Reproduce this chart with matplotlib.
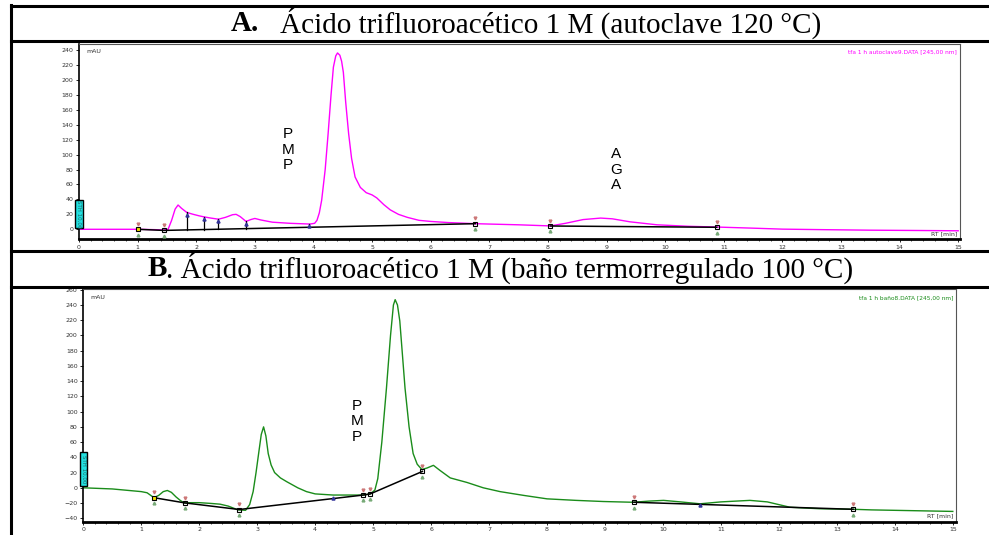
import matplotlib
matplotlib.use("Agg")
import matplotlib.pyplot as plt
from matplotlib.lines import Line2D
from matplotlib.patches import Rectangle
import numpy as np

# ---- panel A: TFA 1 M, autoclave 120 C (magenta trace)
tA = [0.0, 0.5, 1.0, 1.3, 1.45, 1.52, 1.58, 1.64, 1.69, 1.75, 1.84, 1.95, 2.05, 2.14,
      2.25, 2.38, 2.5, 2.62, 2.68, 2.75, 2.85, 2.93, 3.0, 3.1, 3.3, 3.6, 3.94, 4.02,
      4.06, 4.1, 4.14, 4.2, 4.25, 4.3, 4.34, 4.38, 4.41, 4.45, 4.48, 4.51, 4.55, 4.6,
      4.65, 4.71, 4.8, 4.9, 5.0, 5.08, 5.2, 5.31, 5.45, 5.6, 5.8, 6.0, 6.3, 6.76, 7.0,
      7.5, 8.04, 8.3, 8.6, 8.9, 9.1, 9.4, 9.86, 10.4, 10.88, 11.5, 12.0, 12.7, 13.5,
      14.3, 15.0]
mauA = [0, 0, 0, -0.5, -1, 0, 12, 27, 32.5, 28, 22.5, 20, 18, 16.5,
        15, 13.5, 16, 19.5, 20, 17, 10.5, 13, 14.5, 12.5, 9.5, 8, 7, 8,
        12, 22, 39, 80, 128, 180, 217, 232, 236, 233, 225, 210, 170, 128,
        95, 70, 56, 49, 46, 42, 33, 26, 20, 16, 12, 10.5, 9, 7.5, 7,
        6, 4.5, 8, 13, 15, 14, 10, 6, 4, 3, 1.5, 0.2, -0.5, -1.2,
        -1.6, -2]
baseA = [([1.0, 1.45, 6.76], [0, -1.5, 7.5]), ([8.04, 10.88], [4.4, 2.7])]
dropA_t = [1.84, 2.14, 2.37, 2.85, 3.92]

# ---- panel B: TFA 1 M, thermostatic bath 100 C (green trace)
tB = [0.0, 0.5, 1.0, 1.1, 1.22, 1.3, 1.38, 1.45, 1.52, 1.6, 1.68, 1.75, 1.85, 2.0,
      2.2, 2.36, 2.5, 2.67, 2.8, 2.87, 2.93, 2.98, 3.03, 3.07, 3.11, 3.15, 3.19,
      3.24, 3.3, 3.4, 3.51, 3.7, 3.85, 4.0, 4.31, 4.6, 4.83, 4.95, 5.03, 5.08, 5.15,
      5.23, 5.3, 5.35, 5.38, 5.42, 5.46, 5.5, 5.55, 5.62, 5.69, 5.76, 5.84, 5.93,
      6.04, 6.15, 6.33, 6.62, 6.9, 7.19, 7.6, 8.0, 8.5, 8.97, 9.49, 9.75, 10.01,
      10.3, 10.64, 11.0, 11.5, 11.8, 12.19, 12.7, 13.28, 13.6, 14.3, 15.0]
mauB = [0, -1.5, -5, -6.5, -13, -10, -5, -3.5, -6, -12, -17, -20, -19.5, -19.5,
        -20.5, -21.5, -24, -29, -29.5, -22, -5, 20, 48, 70, 80, 68, 45,
        30, 20, 13, 8, 0, -5, -8, -9.5, -9.5, -9.5, -8, -3, 12, 60,
        131, 200, 240, 247, 240, 219, 180, 131, 80, 45, 31, 24, 26,
        29.5, 23, 13, 7, 0, -5, -10, -14.5, -16.5, -18, -19, -17.5, -16.5,
        -18.5, -21, -18.5, -16.5, -18.5, -25.5, -27.5, -28.2, -29, -30, -31]
baseB = [([1.22, 1.75, 2.69, 4.83, 4.95, 5.85], [-13, -19.8, -28.5, -9.5, -8, 21.5]),
         ([9.5, 13.28], [-19, -28.2])]

W, H = 989, 535
fig = plt.figure(figsize=(W / 100, H / 100), dpi=100)
fig.patch.set_facecolor("white")


def px_axes(l, t, r, b):
    return fig.add_axes([l / W, 1 - b / H, (r - l) / W, (b - t) / H])


def style(ax, ymin, ymax, yticks, xmax):
    ax.set_xlim(0, xmax)
    ax.set_ylim(ymin, ymax)
    ax.set_xticks(range(16))
    ax.set_xticks(np.arange(0, 15.01, 0.2), minor=True)
    ax.set_yticks(yticks)
    ax.tick_params(axis="both", which="major", direction="out", length=2.5, width=0.6,
                   labelsize=4.5, labelcolor="#333333", pad=1.5)
    ax.tick_params(axis="x", which="minor", direction="out", length=1.5, width=0.5)
    for s in ["top", "right"]:
        ax.spines[s].set_color("#555555")
        ax.spines[s].set_linewidth(0.8)
    ax.spines["left"].set_linewidth(1.2)
    ax.spines["bottom"].set_linewidth(2.0)
    ax.text(0.008, 0.975, "mAU", transform=ax.transAxes, fontsize=4.5,
            color="#333333", va="top", ha="left")
    ax.text(0.997, 0.015, "RT [min]", transform=ax.transAxes, fontsize=4.5,
            color="#333333", va="bottom", ha="right")


def sth_box(ax, y0, y1):
    ax.add_patch(Rectangle((-0.065, y0), 0.13, y1 - y0, facecolor="#22e0e0",
                           edgecolor="black", lw=1.0, clip_on=False, zorder=5))
    ax.text(0.0, (y0 + y1) / 2, "STH 10,00", rotation=270, fontsize=4,
            color="#226666", ha="center", va="center", zorder=6, clip_on=False)


def base_marks(ax, segs, face):
    for k, (xs, ys) in enumerate(segs):
        ax.plot(xs, ys, color="black", lw=1.1, zorder=3)
        for i, (x, y) in enumerate(zip(xs, ys)):
            fc = face if (k == 0 and i == 0) else "none"
            ax.plot(x, y, marker="s", ms=3.5, mfc=fc, mec="black", mew=0.8, zorder=4)
            ax.plot(x, y + 7, marker="v", ms=2.0, color="#cc7777", zorder=4)
            ax.plot(x, y - 7, marker="^", ms=2.0, color="#77aa77", zorder=4)


# ---- panel A
axA = px_axes(79, 44, 960, 239)
style(axA, -13, 248, range(0, 241, 20), 15.03)
axA.plot(tA, mauA, color="#ff00ff", lw=1.0, zorder=2)
base_marks(axA, baseA, "#f0e000")
bx = [1.45, 6.76]
by = [-1.5, 7.5]
for t in dropA_t:
    yb = np.interp(t, bx, by)
    yc = np.interp(t, tA, mauA)
    axA.plot([t, t], [yb, yc], color="black", lw=0.9, zorder=3)
    axA.plot(t, yc - 3, marker="^", ms=2.2, color="#333399", zorder=4)
axA.text(3.57, 106.5, "P\nM\nP", fontsize=11, family="Liberation Sans",
         ha="center", va="center", linespacing=1.15)
axA.text(9.16, 79.6, "A\nG\nA", fontsize=11, family="Liberation Sans",
         ha="center", va="center", linespacing=1.15)
axA.text(0.997, 0.975, "tfa 1 h autoclave9.DATA [245,00 nm]", transform=axA.transAxes,
         fontsize=4.2, color="#ff00ff", ha="right", va="top")
sth_box(axA, 2, 39)

# ---- panel B
axB = px_axes(83.3, 289, 955.7, 521.7)
style(axB, -44.5, 261, range(-40, 261, 20), 15.05)
axB.plot(tB, mauB, color="#1a8c1a", lw=1.0, zorder=2)
base_marks(axB, baseB, "#f0e000")
axB.plot(4.31, -14, marker="^", ms=2.2, color="#333399", zorder=4)
axB.plot(10.64, -22.5, marker="^", ms=2.2, color="#333399", zorder=4)
axB.text(4.72, 87.2, "P\nM\nP", fontsize=11, family="Liberation Sans",
         ha="center", va="center", linespacing=1.15)
axB.text(0.997, 0.975, "tfa 1 h baño8.DATA [245,00 nm]", transform=axB.transAxes,
         fontsize=4.2, color="#1a8c1a", ha="right", va="top")
sth_box(axB, 3, 47)

# ---- table frame and header rows
def hline(y, x0=11, x1=989, lw=2.2):
    fig.add_artist(Line2D([x0 / W, x1 / W], [1 - y / H, 1 - y / H], color="black", lw=lw))


hline(5.5)
hline(41)
hline(250.5)
hline(287)
fig.add_artist(Line2D([11 / W, 11 / W], [1 - 5 / H, 0], color="black", lw=2.2))

serif = "Liberation Serif"
fs = 21
fig.text(231 / W, 1 - 23.5 / H, "A.", fontsize=fs, family=serif, weight="bold",
         ha="left", va="center")
fig.text(280 / W, 1 - 23.5 / H, "Ácido trifluoroacético 1 M (autoclave 120 °C)",
         fontsize=fs, family=serif, ha="left", va="center")
fig.text(148 / W, 1 - 268 / H, "B", fontsize=fs, family=serif, weight="bold",
         ha="left", va="center")
fig.text(166 / W, 1 - 268 / H, ". Ácido trifluoroacético 1 M (baño termorregulado 100 °C)",
         fontsize=fs, family=serif, ha="left", va="center")

fig.savefig("out.png", dpi=100)
